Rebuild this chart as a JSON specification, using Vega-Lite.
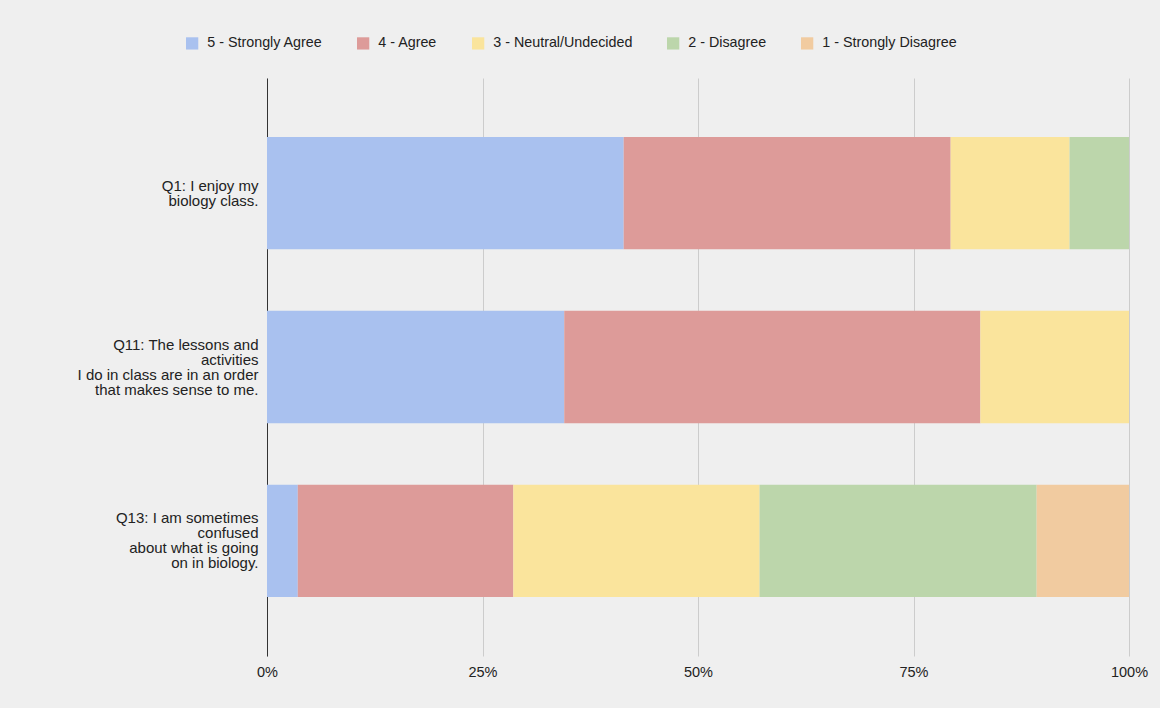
{
  "$schema": "https://vega.github.io/schema/vega-lite/v6.json",
  "autosize": {"type": "none"},
  "padding": {"left": 267, "top": 78, "right": 31, "bottom": 52},
  "width": 862,
  "height": 578,
  "background": "#efefef",
  "data": {
    "values": [
      {"q": "Q1: I enjoy my|biology class.", "qi": 1, "resp": "5 - Strongly Agree", "ord": 1, "n": 12},
      {"q": "Q1: I enjoy my|biology class.", "qi": 1, "resp": "4 - Agree", "ord": 2, "n": 11},
      {"q": "Q1: I enjoy my|biology class.", "qi": 1, "resp": "3 - Neutral/Undecided", "ord": 3, "n": 4},
      {"q": "Q1: I enjoy my|biology class.", "qi": 1, "resp": "2 - Disagree", "ord": 4, "n": 2},
      {"q": "Q1: I enjoy my|biology class.", "qi": 1, "resp": "1 - Strongly Disagree", "ord": 5, "n": 0},
      {"q": "Q11: The lessons and|activities|I do in class are in an order|that makes sense to me.", "qi": 2, "resp": "5 - Strongly Agree", "ord": 1, "n": 10},
      {"q": "Q11: The lessons and|activities|I do in class are in an order|that makes sense to me.", "qi": 2, "resp": "4 - Agree", "ord": 2, "n": 14},
      {"q": "Q11: The lessons and|activities|I do in class are in an order|that makes sense to me.", "qi": 2, "resp": "3 - Neutral/Undecided", "ord": 3, "n": 5},
      {"q": "Q11: The lessons and|activities|I do in class are in an order|that makes sense to me.", "qi": 2, "resp": "2 - Disagree", "ord": 4, "n": 0},
      {"q": "Q11: The lessons and|activities|I do in class are in an order|that makes sense to me.", "qi": 2, "resp": "1 - Strongly Disagree", "ord": 5, "n": 0},
      {"q": "Q13: I am sometimes|confused|about what is going|on in biology.", "qi": 3, "resp": "5 - Strongly Agree", "ord": 1, "n": 1},
      {"q": "Q13: I am sometimes|confused|about what is going|on in biology.", "qi": 3, "resp": "4 - Agree", "ord": 2, "n": 7},
      {"q": "Q13: I am sometimes|confused|about what is going|on in biology.", "qi": 3, "resp": "3 - Neutral/Undecided", "ord": 3, "n": 8},
      {"q": "Q13: I am sometimes|confused|about what is going|on in biology.", "qi": 3, "resp": "2 - Disagree", "ord": 4, "n": 9},
      {"q": "Q13: I am sometimes|confused|about what is going|on in biology.", "qi": 3, "resp": "1 - Strongly Disagree", "ord": 5, "n": 3}
    ]
  },
  "mark": {"type": "bar"},
  "encoding": {
    "y": {
      "field": "q",
      "type": "nominal",
      "sort": {"field": "qi", "op": "min"},
      "scale": {"paddingInner": 0.354, "paddingOuter": 0.34},
      "axis": {
        "title": null,
        "labelExpr": "split(datum.label, '|')",
        "labelFont": "Liberation Sans",
        "labelFontSize": 15,
        "labelLineHeight": 15,
        "labelColor": "#222222",
        "labelPadding": 9,
        "labelOffset": {"condition": {"test": "indexof(datum.value, 'Q1:') == 0", "value": -7.5}, "value": -22.5},
        "ticks": false,
        "domain": true,
        "domainColor": "#333333",
        "domainWidth": 1,
        "grid": false,
        "labelLimit": 300
      }
    },
    "x": {
      "field": "n",
      "type": "quantitative",
      "stack": "normalize",
      "scale": {"domain": [0, 1], "nice": false},
      "axis": {
        "title": null,
        "format": ".0%",
        "values": [0, 0.25, 0.5, 0.75, 1],
        "labelFont": "Liberation Sans",
        "labelFontSize": 14.5,
        "labelColor": "#222222",
        "labelPadding": 9,
        "ticks": false,
        "domain": false,
        "grid": true,
        "gridColor": "#cccccc",
        "gridWidth": 1,
        "labelFlush": false
      }
    },
    "color": {
      "field": "resp",
      "type": "nominal",
      "sort": ["5 - Strongly Agree", "4 - Agree", "3 - Neutral/Undecided", "2 - Disagree", "1 - Strongly Disagree"],
      "scale": {
        "domain": ["5 - Strongly Agree", "4 - Agree", "3 - Neutral/Undecided", "2 - Disagree", "1 - Strongly Disagree"],
        "range": ["#a9c1ef", "#dd9b99", "#fae49c", "#bcd6ab", "#f1cba0"]
      },
      "legend": {
        "title": null,
        "orient": "none",
        "direction": "horizontal",
        "legendX": -82,
        "legendY": -42,
        "symbolType": "square",
        "symbolSize": 150,
        "symbolStrokeWidth": 0,
        "labelFont": "Liberation Sans",
        "labelFontSize": 14.3,
        "labelColor": "#222222",
        "labelOffset": 8,
        "columnPadding": 33,
        "labelLimit": 300
      }
    },
    "order": {"field": "ord", "type": "quantitative"}
  },
  "config": {
    "view": {"stroke": null},
    "axis": {"gridColor": "#cccccc"}
  }
}
